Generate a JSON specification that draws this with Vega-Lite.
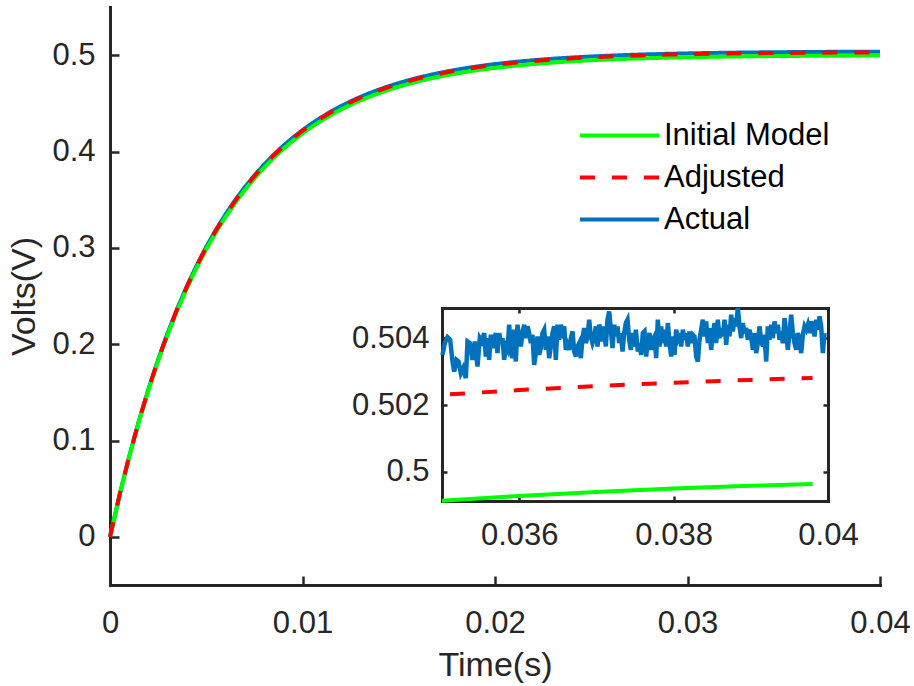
{
"$schema": "https://vega.github.io/schema/vega-lite/v6.json",
"width": 770,
"height": 578,
"autosize": {"type": "none"},
"padding": {"left": 110, "top": 7, "right": 34, "bottom": 101},
"background": "white",
"config": {
  "view": {"stroke": null},
  "font": "Liberation Sans",
  "axis": {"grid": false, "domainColor": "#262626", "tickColor": "#262626", "labelColor": "#262626", "titleColor": "#262626", "labelFont": "Liberation Sans", "titleFont": "Liberation Sans", "domainWidth": 3, "tickWidth": 2.5, "labelFontSize": 31, "titleFontSize": 34, "titleFontWeight": "normal", "format": "~g", "labelFlush": false, "labelOverlap": false, "domainCap": "square"},
  "legend": {"orient": "none", "legendX": 468, "legendY": 113, "title": null, "symbolType": "stroke", "symbolSize": 6241, "symbolStrokeWidth": 4, "labelFontSize": 31, "labelFont": "Liberation Sans", "labelColor": "#000000", "labelOffset": 3, "labelLimit": 400, "clipHeight": 31, "rowPadding": 10, "padding": 0}
},
"datasets": {
  "main": [
    {"t":0,"Initial Model":0,"Adjusted":0,"Actual":0},
    {"t":0.0005,"Initial Model":0.04345,"Adjusted":0.043725,"Actual":0.043797},
    {"t":0.001,"Initial Model":0.083124,"Adjusted":0.08365,"Actual":0.083788},
    {"t":0.0015,"Initial Model":0.11935,"Adjusted":0.120107,"Actual":0.120305},
    {"t":0.002,"Initial Model":0.152428,"Adjusted":0.153394,"Actual":0.153647},
    {"t":0.0025,"Initial Model":0.182632,"Adjusted":0.18379,"Actual":0.184093},
    {"t":0.003,"Initial Model":0.21021,"Adjusted":0.211543,"Actual":0.211892},
    {"t":0.0035,"Initial Model":0.235394,"Adjusted":0.236886,"Actual":0.237277},
    {"t":0.004,"Initial Model":0.258387,"Adjusted":0.260025,"Actual":0.260454},
    {"t":0.0045,"Initial Model":0.279384,"Adjusted":0.281155,"Actual":0.281619},
    {"t":0.005,"Initial Model":0.298555,"Adjusted":0.300448,"Actual":0.300943},
    {"t":0.0055,"Initial Model":0.316061,"Adjusted":0.318064,"Actual":0.318589},
    {"t":0.006,"Initial Model":0.332045,"Adjusted":0.33415,"Actual":0.334701},
    {"t":0.0065,"Initial Model":0.346639,"Adjusted":0.348837,"Actual":0.349412},
    {"t":0.007,"Initial Model":0.359966,"Adjusted":0.362248,"Actual":0.362846},
    {"t":0.0075,"Initial Model":0.372135,"Adjusted":0.374494,"Actual":0.375112},
    {"t":0.008,"Initial Model":0.383246,"Adjusted":0.385676,"Actual":0.386312},
    {"t":0.0085,"Initial Model":0.393392,"Adjusted":0.395886,"Actual":0.396539},
    {"t":0.009,"Initial Model":0.402656,"Adjusted":0.405209,"Actual":0.405877},
    {"t":0.0095,"Initial Model":0.411115,"Adjusted":0.413722,"Actual":0.414404},
    {"t":0.01,"Initial Model":0.418839,"Adjusted":0.421494,"Actual":0.42219},
    {"t":0.0105,"Initial Model":0.425892,"Adjusted":0.428592,"Actual":0.429299},
    {"t":0.011,"Initial Model":0.432333,"Adjusted":0.435074,"Actual":0.435791},
    {"t":0.0115,"Initial Model":0.438213,"Adjusted":0.440991,"Actual":0.441718},
    {"t":0.012,"Initial Model":0.443582,"Adjusted":0.446394,"Actual":0.447131},
    {"t":0.0125,"Initial Model":0.448485,"Adjusted":0.451327,"Actual":0.452072},
    {"t":0.013,"Initial Model":0.452961,"Adjusted":0.455833,"Actual":0.456585},
    {"t":0.0135,"Initial Model":0.457049,"Adjusted":0.459946,"Actual":0.460705},
    {"t":0.014,"Initial Model":0.460781,"Adjusted":0.463702,"Actual":0.464467},
    {"t":0.0145,"Initial Model":0.464189,"Adjusted":0.467132,"Actual":0.467903},
    {"t":0.015,"Initial Model":0.467301,"Adjusted":0.470264,"Actual":0.471039},
    {"t":0.0155,"Initial Model":0.470143,"Adjusted":0.473123,"Actual":0.473904},
    {"t":0.016,"Initial Model":0.472737,"Adjusted":0.475734,"Actual":0.476519},
    {"t":0.0165,"Initial Model":0.475107,"Adjusted":0.478118,"Actual":0.478907},
    {"t":0.017,"Initial Model":0.47727,"Adjusted":0.480295,"Actual":0.481088},
    {"t":0.0175,"Initial Model":0.479245,"Adjusted":0.482283,"Actual":0.483079},
    {"t":0.018,"Initial Model":0.481049,"Adjusted":0.484099,"Actual":0.484897},
    {"t":0.0185,"Initial Model":0.482696,"Adjusted":0.485756,"Actual":0.486557},
    {"t":0.019,"Initial Model":0.484199,"Adjusted":0.487269,"Actual":0.488073},
    {"t":0.0195,"Initial Model":0.485572,"Adjusted":0.488651,"Actual":0.489457},
    {"t":0.02,"Initial Model":0.486826,"Adjusted":0.489912,"Actual":0.49072},
    {"t":0.021,"Initial Model":0.489016,"Adjusted":0.492116,"Actual":0.492928},
    {"t":0.022,"Initial Model":0.490842,"Adjusted":0.493954,"Actual":0.494769},
    {"t":0.023,"Initial Model":0.492365,"Adjusted":0.495486,"Actual":0.496303},
    {"t":0.024,"Initial Model":0.493634,"Adjusted":0.496764,"Actual":0.497583},
    {"t":0.025,"Initial Model":0.494693,"Adjusted":0.497829,"Actual":0.49865},
    {"t":0.026,"Initial Model":0.495575,"Adjusted":0.498716,"Actual":0.499539},
    {"t":0.027,"Initial Model":0.496311,"Adjusted":0.499457,"Actual":0.500281},
    {"t":0.028,"Initial Model":0.496924,"Adjusted":0.500075,"Actual":0.500899},
    {"t":0.029,"Initial Model":0.497435,"Adjusted":0.500589,"Actual":0.501414},
    {"t":0.03,"Initial Model":0.497862,"Adjusted":0.501018,"Actual":0.501844},
    {"t":0.031,"Initial Model":0.498217,"Adjusted":0.501376,"Actual":0.502203},
    {"t":0.032,"Initial Model":0.498514,"Adjusted":0.501674,"Actual":0.502502},
    {"t":0.033,"Initial Model":0.49876,"Adjusted":0.501923,"Actual":0.502751},
    {"t":0.034,"Initial Model":0.498967,"Adjusted":0.50213,"Actual":0.502958},
    {"t":0.035,"Initial Model":0.499139,"Adjusted":0.502303,"Actual":0.503132},
    {"t":0.036,"Initial Model":0.499282,"Adjusted":0.502447,"Actual":0.503276},
    {"t":0.037,"Initial Model":0.499401,"Adjusted":0.502567,"Actual":0.503396},
    {"t":0.038,"Initial Model":0.499501,"Adjusted":0.502667,"Actual":0.503497},
    {"t":0.039,"Initial Model":0.499584,"Adjusted":0.502751,"Actual":0.50358},
    {"t":0.04,"Initial Model":0.499653,"Adjusted":0.502821,"Actual":0.50365}
  ],
  "model": [
    {"t":0.035,"Initial Model":0.499139,"Adjusted":0.502303},
    {"t":0.036,"Initial Model":0.499282,"Adjusted":0.502447},
    {"t":0.037,"Initial Model":0.499401,"Adjusted":0.502567},
    {"t":0.038,"Initial Model":0.499501,"Adjusted":0.502667},
    {"t":0.039,"Initial Model":0.499584,"Adjusted":0.502751},
    {"t":0.0398,"Initial Model":0.49964,"Adjusted":0.502807}
  ],
  "actual": [
    {"t":0.0350065,"v":0.5035},{"t":0.0350367,"v":0.50385},{"t":0.0350712,"v":0.50403},{"t":0.0351058,"v":0.50395},
    {"t":0.035136,"v":0.5033},{"t":0.0351576,"v":0.503},{"t":0.0351878,"v":0.50335},{"t":0.0352137,"v":0.5033},
    {"t":0.035244,"v":0.50295},{"t":0.0352742,"v":0.5031},{"t":0.0353087,"v":0.5028},{"t":0.0353303,"v":0.5039},
    {"t":0.0353605,"v":0.50385},{"t":0.0353951,"v":0.50335},{"t":0.0354253,"v":0.5039},{"t":0.0354598,"v":0.50315},
    {"t":0.0354901,"v":0.504},{"t":0.035516,"v":0.5039},{"t":0.0355462,"v":0.50415},{"t":0.0355678,"v":0.50345},
    {"t":0.0355894,"v":0.504},{"t":0.035611,"v":0.50335},{"t":0.0356326,"v":0.5041},{"t":0.0356542,"v":0.5037},
    {"t":0.0356758,"v":0.50395},{"t":0.0356973,"v":0.50415},{"t":0.0357189,"v":0.50355},{"t":0.0357405,"v":0.50415},
    {"t":0.0357621,"v":0.50385},{"t":0.0357837,"v":0.504},{"t":0.0358053,"v":0.50335},{"t":0.0358269,"v":0.50375},
    {"t":0.0358485,"v":0.50365},{"t":0.0358701,"v":0.5044},{"t":0.0358917,"v":0.50365},{"t":0.0359133,"v":0.5034},
    {"t":0.0359348,"v":0.50425},{"t":0.0359564,"v":0.5033},{"t":0.035978,"v":0.5044},{"t":0.0359996,"v":0.50405},
    {"t":0.0360212,"v":0.50375},{"t":0.0360428,"v":0.50415},{"t":0.0360644,"v":0.5044},{"t":0.036086,"v":0.504},
    {"t":0.0361076,"v":0.50435},{"t":0.0361292,"v":0.50415},{"t":0.0361508,"v":0.50385},{"t":0.0361723,"v":0.5041},
    {"t":0.0361939,"v":0.5032},{"t":0.0362155,"v":0.50355},{"t":0.0362371,"v":0.50405},{"t":0.0362587,"v":0.5035},
    {"t":0.0362803,"v":0.5037},{"t":0.0363019,"v":0.50415},{"t":0.0363235,"v":0.50425},{"t":0.0363451,"v":0.50365},
    {"t":0.0363667,"v":0.50405},{"t":0.0363883,"v":0.5034},{"t":0.0364098,"v":0.50375},{"t":0.0364314,"v":0.50415},
    {"t":0.036453,"v":0.50435},{"t":0.0364746,"v":0.50335},{"t":0.0364962,"v":0.5044},{"t":0.0365178,"v":0.50395},
    {"t":0.0365394,"v":0.5044},{"t":0.036561,"v":0.5042},{"t":0.0365826,"v":0.50435},{"t":0.0366042,"v":0.50365},
    {"t":0.0366258,"v":0.5038},{"t":0.0366473,"v":0.50365},{"t":0.0366689,"v":0.504},{"t":0.0366905,"v":0.5042},
    {"t":0.0367121,"v":0.5036},{"t":0.0367337,"v":0.50345},{"t":0.0367553,"v":0.50375},{"t":0.0367769,"v":0.50385},
    {"t":0.0367985,"v":0.5034},{"t":0.0368201,"v":0.504},{"t":0.0368417,"v":0.5043},{"t":0.0368633,"v":0.50385},
    {"t":0.0368848,"v":0.50405},{"t":0.0369064,"v":0.50455},{"t":0.036928,"v":0.50405},{"t":0.0369496,"v":0.50385},
    {"t":0.0369712,"v":0.504},{"t":0.0369928,"v":0.50435},{"t":0.0370144,"v":0.50375},{"t":0.037036,"v":0.5044},
    {"t":0.0370576,"v":0.50425},{"t":0.0370792,"v":0.5039},{"t":0.0371008,"v":0.50435},{"t":0.0371223,"v":0.50375},
    {"t":0.0371439,"v":0.50455},{"t":0.0371655,"v":0.5048},{"t":0.0371871,"v":0.50425},{"t":0.0372087,"v":0.5037},
    {"t":0.0372303,"v":0.5044},{"t":0.0372519,"v":0.50405},{"t":0.0372735,"v":0.50435},{"t":0.0372951,"v":0.50385},
    {"t":0.0373167,"v":0.50415},{"t":0.0373383,"v":0.5036},{"t":0.0373598,"v":0.50415},{"t":0.0373814,"v":0.50445},
    {"t":0.037403,"v":0.50455},{"t":0.0374246,"v":0.50395},{"t":0.0374462,"v":0.50365},{"t":0.0374678,"v":0.50415},
    {"t":0.0374894,"v":0.50375},{"t":0.037511,"v":0.50425},
    {"t":0.0375367,"v":0.5036},{"t":0.0375583,"v":0.50385},{"t":0.0375799,"v":0.5035},{"t":0.0376015,"v":0.50415},
    {"t":0.0376231,"v":0.5042},{"t":0.0376447,"v":0.50345},{"t":0.0376663,"v":0.50395},{"t":0.0376879,"v":0.50415},
    {"t":0.0377095,"v":0.50365},{"t":0.0377311,"v":0.50395},{"t":0.0377526,"v":0.50405},{"t":0.0377742,"v":0.5034},
    {"t":0.0377958,"v":0.50455},{"t":0.0378174,"v":0.50375},{"t":0.037839,"v":0.50435},{"t":0.0378606,"v":0.50385},
    {"t":0.0378822,"v":0.50425},{"t":0.0379038,"v":0.50375},{"t":0.0379254,"v":0.50445},{"t":0.037947,"v":0.50385},
    {"t":0.0379686,"v":0.50345},{"t":0.0379901,"v":0.50405},{"t":0.0380117,"v":0.5035},{"t":0.0380333,"v":0.50425},
    {"t":0.0380549,"v":0.504},{"t":0.0380765,"v":0.50415},{"t":0.0380981,"v":0.50375},{"t":0.0381197,"v":0.50425},
    {"t":0.0381413,"v":0.50395},{"t":0.0381629,"v":0.50415},{"t":0.0381845,"v":0.50375},{"t":0.0382061,"v":0.5042},
    {"t":0.0382277,"v":0.50385},{"t":0.0382492,"v":0.5041},{"t":0.0382708,"v":0.50405},{"t":0.0382924,"v":0.50345},
    {"t":0.038314,"v":0.5033},{"t":0.0383356,"v":0.50395},{"t":0.0383572,"v":0.50425},{"t":0.0383788,"v":0.50455},
    {"t":0.0384004,"v":0.50405},{"t":0.038422,"v":0.5045},{"t":0.0384436,"v":0.50385},{"t":0.0384652,"v":0.5043},
    {"t":0.0384867,"v":0.50365},{"t":0.0385083,"v":0.5041},{"t":0.0385299,"v":0.50445},{"t":0.0385515,"v":0.50385},
    {"t":0.0385731,"v":0.50455},{"t":0.0385947,"v":0.504},{"t":0.0386163,"v":0.5043},{"t":0.0386379,"v":0.50405},
    {"t":0.0386595,"v":0.50455},{"t":0.0386811,"v":0.5038},{"t":0.0387027,"v":0.5044},{"t":0.0387242,"v":0.50405},
    {"t":0.0387458,"v":0.5047},{"t":0.0387674,"v":0.5042},{"t":0.038789,"v":0.5046},{"t":0.0388106,"v":0.50435},
    {"t":0.0388322,"v":0.5049},{"t":0.0388538,"v":0.50435},{"t":0.0388754,"v":0.504},{"t":0.038897,"v":0.50445},
    {"t":0.0389186,"v":0.50415},{"t":0.0389402,"v":0.5043},{"t":0.0389617,"v":0.50395},{"t":0.0389833,"v":0.50425},
    {"t":0.0390049,"v":0.50405},{"t":0.0390265,"v":0.50365},{"t":0.0390481,"v":0.50415},{"t":0.0390697,"v":0.50355},
    {"t":0.0390913,"v":0.50385},{"t":0.0391129,"v":0.50435},{"t":0.0391345,"v":0.50395},{"t":0.0391561,"v":0.50375},
    {"t":0.0391777,"v":0.5041},{"t":0.0391992,"v":0.5033},{"t":0.0392208,"v":0.50435},{"t":0.0392424,"v":0.50395},
    {"t":0.039264,"v":0.5044},{"t":0.0392856,"v":0.504},{"t":0.0393072,"v":0.5045},{"t":0.0393288,"v":0.50415},
    {"t":0.0393504,"v":0.5044},{"t":0.039372,"v":0.50395},{"t":0.0393936,"v":0.5042},{"t":0.0394152,"v":0.50385},
    {"t":0.0394367,"v":0.5046},{"t":0.0394583,"v":0.50415},{"t":0.0394799,"v":0.50365},{"t":0.0395015,"v":0.50415},
    {"t":0.0395231,"v":0.5047},{"t":0.0395447,"v":0.50415},{"t":0.0395663,"v":0.50385},{"t":0.0395879,"v":0.50365},
    {"t":0.0396095,"v":0.50415},{"t":0.0396311,"v":0.50395},{"t":0.0396527,"v":0.50355},{"t":0.0396742,"v":0.5041},
    {"t":0.0396958,"v":0.50435},{"t":0.0397174,"v":0.50425},{"t":0.039739,"v":0.5044},{"t":0.0397606,"v":0.50415},
    {"t":0.0397822,"v":0.5045},{"t":0.0398038,"v":0.50435},{"t":0.0398254,"v":0.50405},{"t":0.039847,"v":0.50455},
    {"t":0.0398686,"v":0.50425},{"t":0.0398902,"v":0.50465},{"t":0.0399117,"v":0.50435},{"t":0.0399333,"v":0.50355},
    {"t":0.0399549,"v":0.50415}
  ]
},
"layer": [
  {
    "data": {"name": "main"},
    "transform": [{"fold": ["Initial Model", "Adjusted", "Actual"], "as": ["series", "v"]}],
    "encoding": {
      "x": {"field": "t", "type": "quantitative", "scale": {"domain": [0, 0.04], "nice": false, "zero": false},
        "axis": {"orient": "bottom", "values": [0, 0.01, 0.02, 0.03, 0.04], "title": "Time(s)", "tickSize": -9, "labelPadding": 32, "titlePadding": 10}},
      "y": {"field": "v", "type": "quantitative", "scale": {"domain": [-0.05, 0.55], "nice": false, "zero": false},
        "axis": {"orient": "left", "values": [0, 0.1, 0.2, 0.3, 0.4, 0.5], "title": "Volts(V)", "tickSize": -9, "labelPadding": 24, "titlePadding": 10}},
      "color": {"field": "series", "type": "nominal", "scale": {"domain": ["Initial Model", "Adjusted", "Actual"], "range": ["#00FF00", "#FF0000", "#0072BD"]}},
      "strokeDash": {"field": "series", "type": "nominal", "scale": {"domain": ["Initial Model", "Adjusted", "Actual"], "range": [[1, 0], [15, 17], [1, 0]]}}
    },
    "layer": [
      {"transform": [{"filter": "datum.series === 'Actual'"}], "mark": {"type": "line", "strokeWidth": 4}},
      {"transform": [{"filter": "datum.series === 'Initial Model'"}], "mark": {"type": "line", "strokeWidth": 4}},
      {"transform": [{"filter": "datum.series === 'Adjusted'"}], "mark": {"type": "line", "strokeWidth": 4}}
    ]
  },
  {
    "layer": [
      {
        "data": {"name": "actual"},
        "mark": {"type": "line", "color": "#0072BD", "strokeWidth": 4.5},
        "encoding": {
          "x": {"field": "t", "type": "quantitative", "scale": {"domain": [0.035, 0.04], "range": [332, 718], "nice": false, "zero": false},
            "axis": {"orient": "bottom", "offset": -84, "values": [0.036, 0.038, 0.04], "title": null, "tickSize": -5, "labelPadding": 24}},
          "y": {"field": "v", "type": "quantitative", "scale": {"domain": [0.49913, 0.5049], "range": [494, 301], "nice": false, "zero": false},
            "axis": {"orient": "left", "offset": -332, "values": [0.5, 0.502, 0.504], "title": null, "tickSize": -5, "labelPadding": 18}}
        }
      },
      {
        "data": {"name": "model"},
        "encoding": {
          "x": {"field": "t", "type": "quantitative", "scale": {"domain": [0.035, 0.04], "range": [332, 718], "nice": false, "zero": false},
            "axis": {"orient": "top", "offset": -301, "values": [0.036, 0.038, 0.04], "title": null, "tickSize": -5, "labels": false}}
        },
        "layer": [
          {"mark": {"type": "line", "color": "#00FF00", "strokeWidth": 4},
           "encoding": {"y": {"field": "Initial Model", "type": "quantitative", "scale": {"domain": [0.49913, 0.5049], "range": [494, 301], "nice": false, "zero": false},
             "axis": {"orient": "right", "offset": -52, "values": [0.5, 0.502, 0.504], "title": null, "tickSize": -5, "labels": false}}}},
          {"mark": {"type": "line", "color": "#FF0000", "strokeWidth": 4, "strokeDash": [15, 17], "strokeDashOffset": 24},
           "encoding": {"y": {"field": "Adjusted", "type": "quantitative"}}}
        ]
      }
    ],
    "resolve": {"scale": {"x": "independent", "y": "independent"}}
  }
],
"resolve": {"scale": {"x": "independent", "y": "independent"}}
}
